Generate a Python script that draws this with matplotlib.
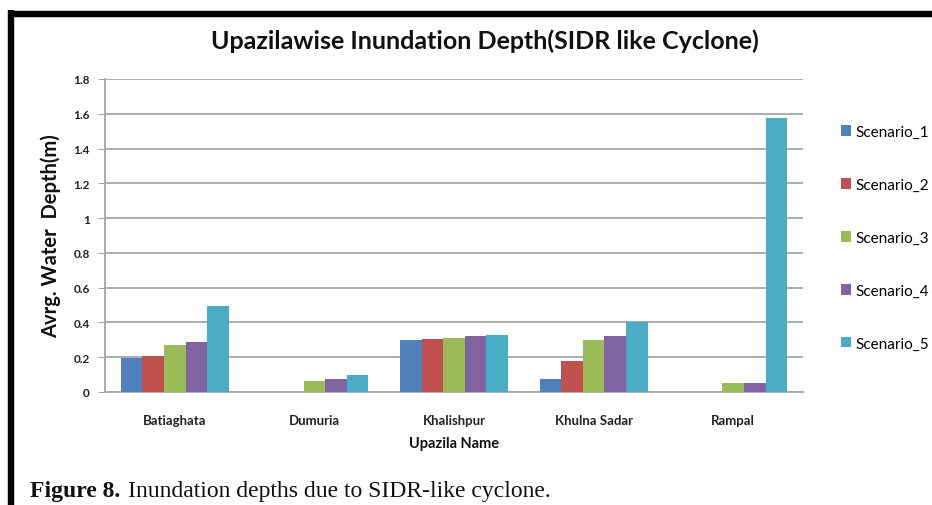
import matplotlib
matplotlib.use("Agg")
import matplotlib.pyplot as plt
import numpy as np
from matplotlib.patches import Patch
from matplotlib.lines import Line2D

upazilas = ["Batiaghata", "Dumuria", "Khalishpur", "Khulna Sadar", "Rampal"]
scenario_names = ["Scenario_1", "Scenario_2", "Scenario_3", "Scenario_4", "Scenario_5"]
scenario_1 = [0.195, 0.0, 0.297, 0.074, 0.0]
scenario_2 = [0.205, 0.0, 0.305, 0.18, 0.0]
scenario_3 = [0.268, 0.066, 0.31, 0.297, 0.05]
scenario_4 = [0.29, 0.074, 0.32, 0.324, 0.05]
scenario_5 = [0.496, 0.099, 0.325, 0.40, 1.577]
series = [scenario_1, scenario_2, scenario_3, scenario_4, scenario_5]
colors = ["#4F81BD", "#C0504D", "#9BBB59", "#8064A2", "#4BACC6"]
yticks = [0, 0.2, 0.4, 0.6, 0.8, 1, 1.2, 1.4, 1.6, 1.8]
ytick_labels = ["0", "0.2", "0.4", "0.6", "0.8", "1", "1.2", "1.4", "1.6", "1.8"]

W, H = 932, 506
fig = plt.figure(figsize=(W / 100, H / 100), dpi=100)
fig.patch.set_facecolor("white")

# black frame (top and left edges visible)
fig.add_artist(Line2D([8 / W, 1.0], [1 - 14.5 / H, 1 - 14.5 / H], color="black", lw=4.6,
                      transform=fig.transFigure, solid_capstyle="butt"))
fig.add_artist(Line2D([11 / W, 11 / W], [0, 1 - 11 / H], color="black", lw=4.6,
                      transform=fig.transFigure, solid_capstyle="butt"))

ax = fig.add_axes([105 / W, 1 - 393 / H, (803 - 105) / W, (393 - 80) / H])
x = np.arange(len(upazilas))
n = len(series)
group_w = 0.774
bw = group_w / n
for i, (vals, c, name) in enumerate(zip(series, colors, scenario_names)):
    offs = -group_w / 2 + bw * (i + 0.5)
    ax.bar(x + offs, vals, width=bw, color=c, label=name, zorder=3, linewidth=0)

ax.set_xlim(-0.5, len(upazilas) - 0.5)
ax.set_ylim(0, 1.8)
ax.set_yticks(yticks)
ax.set_yticklabels(ytick_labels)
ax.set_xticks(x)
ax.set_xticklabels(upazilas)
ax.grid(axis="y", color="#a6a6a6", lw=1.3, zorder=0)
for s in ["top", "right"]:
    ax.spines[s].set_visible(False)
ax.spines["left"].set_color("#a6a6a6")
ax.spines["bottom"].set_color("#a6a6a6")
ax.spines["left"].set_linewidth(1.3)
ax.spines["bottom"].set_linewidth(1.3)
ax.tick_params(axis="y", length=5, color="#a6a6a6", labelsize=8.5, pad=6)
ax.tick_params(axis="x", length=0, labelsize=9.5, pad=16)
for lab in ax.get_yticklabels() + ax.get_xticklabels():
    lab.set_fontfamily("Lato")
    lab.set_fontweight("bold")
    lab.set_color("#222222")

ax.set_ylabel("Avrg. Water  Depth(m)", fontsize=14.5, fontfamily="Lato", fontweight="bold",
              labelpad=9, color="#111111")
ax.set_xlabel("Upazila Name", fontsize=10.5, fontfamily="Lato", fontweight="bold",
              labelpad=7, color="#111111")

fig.text(485 / W, 1 - 41 / H, "Upazilawise Inundation Depth(SIDR like Cyclone)",
         ha="center", va="center", fontsize=18, fontfamily="Lato", fontweight="bold",
         color="#111111")

handles = [Patch(facecolor=c, edgecolor="none") for c in colors]
fig.legend(handles, scenario_names, loc="upper left",
           bbox_to_anchor=(833 / W, 1 - 118 / H), frameon=False,
           prop={"family": "Lato", "size": 11}, handlelength=0.7, handleheight=0.7,
           handletextpad=0.3, labelspacing=2.55, borderpad=0)

fig.text(30 / W, 1 - 492 / H, "Figure 8.", ha="left", va="center", fontsize=17,
         fontfamily="Liberation Serif", fontweight="bold", color="#111111")
fig.text(128 / W, 1 - 492 / H, "Inundation depths due to SIDR-like cyclone.", ha="left",
         va="center", fontsize=17, fontfamily="Liberation Serif", color="#111111")

fig.savefig("out.png", dpi=100)
